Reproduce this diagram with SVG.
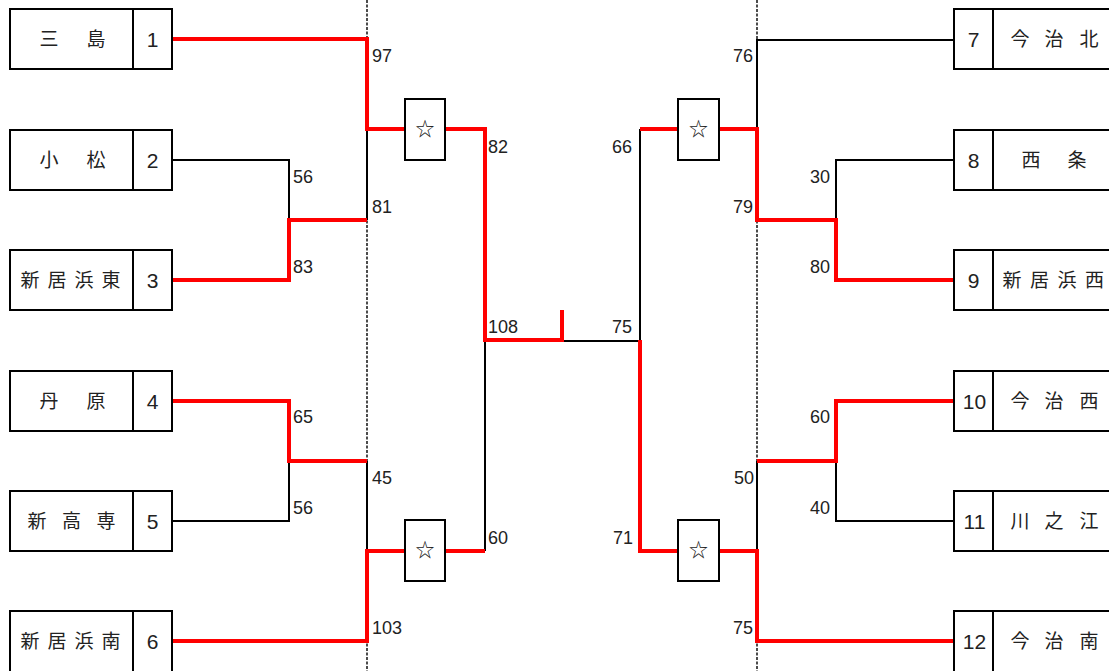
<svg xmlns="http://www.w3.org/2000/svg" width="1109" height="671" viewBox="0 0 1109 671">
<style>
.box{fill:#fff;stroke:#000;stroke-width:2}
.dv{stroke:#000;stroke-width:2}
.nm{font-family:"Noto Sans CJK JP","Noto Sans CJK SC",sans-serif;font-size:19px;fill:#222;text-anchor:middle}
.no{font-family:"Liberation Sans",Arial,sans-serif;font-size:21px;fill:#222;text-anchor:middle}
.sc{font-family:"Liberation Sans",Arial,sans-serif;font-size:18px;fill:#222}
.r{text-anchor:end}
.blk{fill:none;stroke:#000;stroke-width:2}
.red{fill:none;stroke:#f00;stroke-width:4;stroke-linejoin:miter}
.dot{stroke:#000;stroke-width:1.4;stroke-dasharray:3 1.5}
.star{font-family:"Noto Sans CJK JP","DejaVu Sans",sans-serif;font-size:19px;fill:#222;text-anchor:middle}
</style>
<rect width="1109" height="671" fill="#fff"/>
<g id="guides">
<line class="dot" x1="367" y1="0" x2="367" y2="671"/>
<line class="dot" x1="757" y1="0" x2="757" y2="671"/>
</g>
<g id="connectors">
<path class="blk" d="M172,160 H289 V220"/>
<path class="blk" d="M367,129 V220"/>
<path class="blk" d="M172,521 H289 V461"/>
<path class="blk" d="M367,461 V551"/>
<path class="blk" d="M485,340 V551"/>
<path class="blk" d="M563,341 H640"/>
<path class="blk" d="M640,129 V340"/>
<path class="blk" d="M954,40 H757 V129"/>
<path class="blk" d="M954,160 H836 V220"/>
<path class="blk" d="M757,461 V551"/>
<path class="blk" d="M954,521 H836 V461"/>
<path class="red" d="M172,39 H367 V129 H405"/>
<path class="red" d="M172,280 H289 V220 H367"/>
<path class="red" d="M445,129 H485 V340 H562 V310"/>
<path class="red" d="M172,401 H289 V461 H367"/>
<path class="red" d="M172,641 H367 V551 H405"/>
<path class="red" d="M445,551 H485"/>
<path class="red" d="M640,340 V551 H678"/>
<path class="red" d="M640,129 H678"/>
<path class="red" d="M719,129 H757 V220 H836 V280 H954"/>
<path class="red" d="M719,551 H757 V641 H954"/>
<path class="red" d="M757,461 H836 V401 H954"/>
</g>
<g id="scores">
<text class="sc" x="372" y="62">97</text>
<text class="sc" x="293" y="183">56</text>
<text class="sc" x="372" y="213">81</text>
<text class="sc" x="293" y="273">83</text>
<text class="sc" x="488" y="153">82</text>
<text class="sc" x="488" y="333">108</text>
<text class="sc" x="293" y="423">65</text>
<text class="sc" x="372" y="484">45</text>
<text class="sc" x="293" y="514">56</text>
<text class="sc" x="488" y="544">60</text>
<text class="sc" x="372" y="634">103</text>
<text class="sc r" x="632" y="153">66</text>
<text class="sc r" x="632" y="333">75</text>
<text class="sc r" x="633" y="544">71</text>
<text class="sc r" x="753" y="62">76</text>
<text class="sc r" x="830" y="183">30</text>
<text class="sc r" x="753" y="213">79</text>
<text class="sc r" x="830" y="273">80</text>
<text class="sc r" x="830" y="423">60</text>
<text class="sc r" x="754" y="484">50</text>
<text class="sc r" x="830" y="514">40</text>
<text class="sc r" x="753" y="634">75</text>
</g>
<g id="star1"><rect class="box" x="405" y="99" width="40" height="61"/><text class="star" x="425" y="136">☆</text></g>
<g id="star2"><rect class="box" x="405" y="520" width="40" height="61"/><text class="star" x="425" y="557">☆</text></g>
<g id="star3"><rect class="box" x="678" y="99" width="41" height="61"/><text class="star" x="698.5" y="136">☆</text></g>
<g id="star4"><rect class="box" x="678" y="520" width="41" height="61"/><text class="star" x="698.5" y="557">☆</text></g>
<g id="team1"><rect class="box" x="10" y="9" width="162" height="60"/><line class="dv" x1="133" y1="9" x2="133" y2="69"/><text class="nm" x="49 96" y="46">三島</text><text class="no" x="152.5" y="47">1</text></g>
<g id="team2"><rect class="box" x="10" y="130" width="162" height="60"/><line class="dv" x1="133" y1="130" x2="133" y2="190"/><text class="nm" x="49 96" y="167">小松</text><text class="no" x="152.5" y="168">2</text></g>
<g id="team3"><rect class="box" x="10" y="250" width="162" height="60"/><line class="dv" x1="133" y1="250" x2="133" y2="310"/><text class="nm" x="30 57 84 111" y="287">新居浜東</text><text class="no" x="152.5" y="288">3</text></g>
<g id="team4"><rect class="box" x="10" y="371" width="162" height="60"/><line class="dv" x1="133" y1="371" x2="133" y2="431"/><text class="nm" x="49 96" y="408">丹原</text><text class="no" x="152.5" y="409">4</text></g>
<g id="team5"><rect class="box" x="10" y="491" width="162" height="60"/><line class="dv" x1="133" y1="491" x2="133" y2="551"/><text class="nm" x="37 71.5 106" y="528">新高専</text><text class="no" x="152.5" y="529">5</text></g>
<g id="team6"><rect class="box" x="10" y="611" width="162" height="62"/><line class="dv" x1="133" y1="611" x2="133" y2="673"/><text class="nm" x="30 57 84 111" y="648">新居浜南</text><text class="no" x="152.5" y="649">6</text></g>
<g id="team7"><rect class="box" x="954" y="9" width="164" height="60"/><line class="dv" x1="993" y1="9" x2="993" y2="69"/><text class="nm" x="1020 1054 1089" y="46">今治北</text><text class="no" x="973.5" y="47">7</text></g>
<g id="team8"><rect class="box" x="954" y="130" width="164" height="60"/><line class="dv" x1="993" y1="130" x2="993" y2="190"/><text class="nm" x="1031 1077" y="167">西条</text><text class="no" x="973.5" y="168">8</text></g>
<g id="team9"><rect class="box" x="954" y="250" width="164" height="60"/><line class="dv" x1="993" y1="250" x2="993" y2="310"/><text class="nm" x="1012 1039.5 1067 1094.5" y="287">新居浜西</text><text class="no" x="973.5" y="288">9</text></g>
<g id="team10"><rect class="box" x="954" y="371" width="164" height="60"/><line class="dv" x1="993" y1="371" x2="993" y2="431"/><text class="nm" x="1020 1054 1089" y="408">今治西</text><text class="no" x="974.5" y="409">10</text></g>
<g id="team11"><rect class="box" x="954" y="491" width="164" height="60"/><line class="dv" x1="993" y1="491" x2="993" y2="551"/><text class="nm" x="1020 1054 1089" y="528">川之江</text><text class="no" x="974.5" y="529">11</text></g>
<g id="team12"><rect class="box" x="954" y="611" width="164" height="62"/><line class="dv" x1="993" y1="611" x2="993" y2="673"/><text class="nm" x="1020 1054 1089" y="648">今治南</text><text class="no" x="974.5" y="649">12</text></g>
</svg>
